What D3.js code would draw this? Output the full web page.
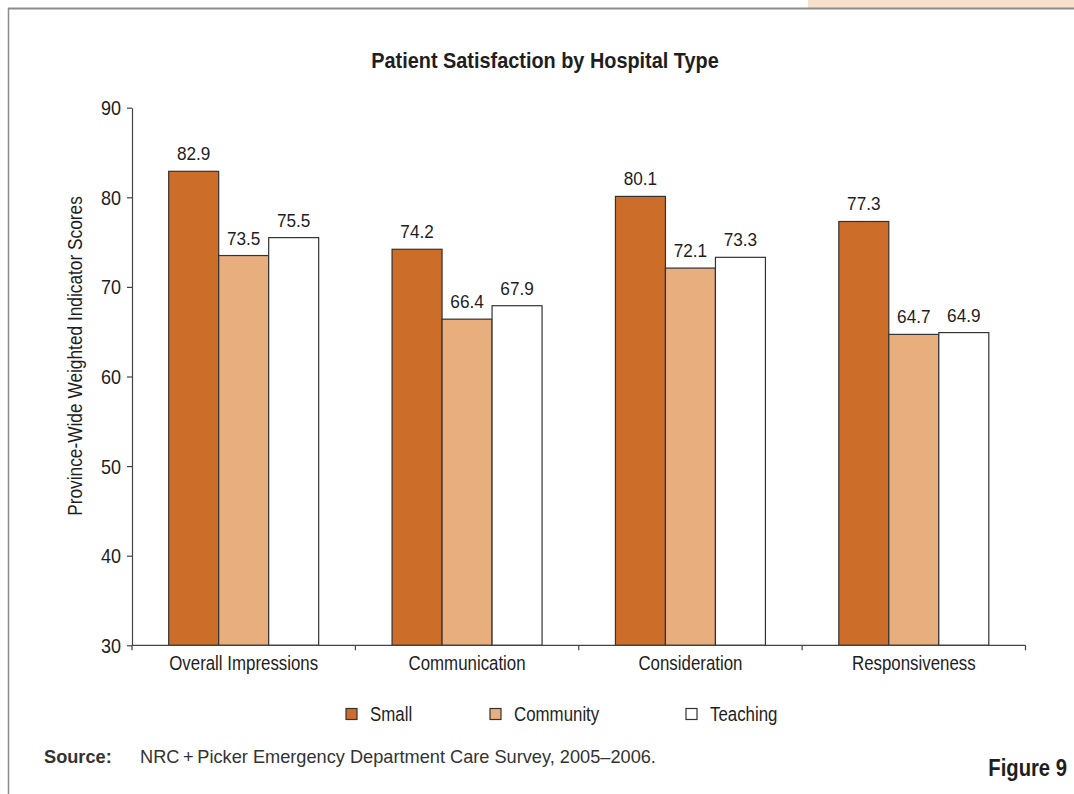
<!DOCTYPE html>
<html>
<head>
<meta charset="utf-8">
<script src="https://cdn.jsdelivr.net/npm/d3@7"></script>
<style>
  html, body { margin: 0; padding: 0; background: #fff; }
  svg { display: block; }
  text { font-family: "Liberation Sans", Arial, Helvetica, sans-serif; }
</style>
</head>
<body>
<svg id="chart" width="1074" height="794"></svg>
<script>
const categories = ["Overall Impressions", "Communication", "Consideration", "Responsiveness"];
const seriesNames = ["Small", "Community", "Teaching"];
const smallValues = [82.9, 74.2, 80.1, 77.3];
const communityValues = [73.5, 66.4, 72.1, 64.7];
const teachingValues = [75.5, 67.9, 73.3, 64.9];
const yTicks = [30, 40, 50, 60, 70, 80, 90];
const colors = ["#cc6d29", "#e8ae7e", "#ffffff"];

const seriesValues = [smallValues, communityValues, teachingValues];

const svg = d3.select("#chart");

// condensed text helper: horizontal squeeze to mimic a condensed face
function ctext(parent, x, y, str, opts = {}) {
  const sx = opts.sx ?? 0.865;
  const g = parent.append("g").attr("transform", `translate(${x},${y}) ${opts.rotate ? `rotate(${opts.rotate})` : ""} scale(${sx},1)`);
  return g.append("text")
    .attr("x", 0).attr("y", 0)
    .attr("text-anchor", opts.anchor || "start")
    .attr("font-size", opts.size || 19.5)
    .attr("font-weight", opts.weight || "normal")
    .attr("fill", opts.fill || "#1e1e1e")
    .text(str);
}

// decorative frame
svg.append("rect").attr("x", 808).attr("y", 0).attr("width", 266).attr("height", 8).attr("fill", "#f7e1cc");
svg.append("line").attr("x1", 8).attr("x2", 1074).attr("y1", 8.5).attr("y2", 8.5).attr("stroke", "#8c8c8c").attr("stroke-width", 2);
svg.append("line").attr("x1", 8.5).attr("x2", 8.5).attr("y1", 8).attr("y2", 794).attr("stroke", "#8c8c8c").attr("stroke-width", 1.5);

const plotLeft = 132, plotRight = 1025.5, plotTop = 107.7, plotBottom = 645.3;

const x0 = d3.scaleBand().domain(categories).range([plotLeft, plotRight]).paddingInner(0).paddingOuter(0);
const x1 = d3.scaleBand().domain(seriesNames).range([0, 150]);
const y = d3.scaleLinear().domain([30, 90]).range([plotBottom, plotTop]);

// title
ctext(svg, 545, 67.5, "Patient Satisfaction by Hospital Type", { anchor: "middle", size: 21.5, weight: "bold", sx: 0.925 });

// bars
const groups = svg.append("g").selectAll("g").data(categories).join("g")
  .attr("transform", d => `translate(${x0(d) + (x0.bandwidth() - 150) / 2},0)`);

groups.each(function (cat, ci) {
  const g = d3.select(this);
  seriesNames.forEach((s, si) => {
    const v = seriesValues[si][ci];
    g.append("rect")
      .attr("x", x1(s)).attr("y", y(v))
      .attr("width", x1.bandwidth()).attr("height", y(30) - y(v))
      .attr("fill", colors[si]).attr("stroke", "#333").attr("stroke-width", 1.2);
    ctext(g, x1(s) + x1.bandwidth() / 2, y(v) - 11, v.toFixed(1), { anchor: "middle", size: 18.7, sx: 0.92 });
  });
});

// y axis
const yAxis = svg.append("g").attr("transform", `translate(${plotLeft},0)`)
  .call(d3.axisLeft(y).tickValues(yTicks).tickSize(5).tickSizeOuter(0).tickFormat(""));
yAxis.select(".domain").attr("stroke", "#444").attr("stroke-width", 1.2);
yAxis.selectAll(".tick line").attr("stroke", "#444").attr("stroke-width", 1.2);
yAxis.selectAll(".tick").each(function (d) {
  ctext(d3.select(this), -11, 7, String(d), { anchor: "end", size: 20, sx: 0.9 });
});

// x axis
const boundaries = categories.map(c => x0(c)).concat([plotRight]);
const xAxis = svg.append("g").attr("transform", `translate(0,${plotBottom})`);
xAxis.append("line").attr("x1", plotLeft).attr("x2", plotRight).attr("stroke", "#444").attr("stroke-width", 1.2);
xAxis.selectAll("line.tk").data(boundaries).join("line").attr("class", "tk")
  .attr("x1", d => d).attr("x2", d => d).attr("y1", 0).attr("y2", 5)
  .attr("stroke", "#444").attr("stroke-width", 1.2);
categories.forEach(c => {
  ctext(xAxis, x0(c) + x0.bandwidth() / 2, 24.7, c, { anchor: "middle", size: 19.5 });
});

// y label
ctext(svg, 82, 356, "Province-Wide Weighted Indicator Scores", { anchor: "middle", size: 20, rotate: -90 });

// legend
const legendX = [346, 490, 686];
seriesNames.forEach((s, i) => {
  svg.append("rect").attr("x", legendX[i]).attr("y", 708.5).attr("width", 11).attr("height", 11)
    .attr("fill", colors[i]).attr("stroke", "#333").attr("stroke-width", 1.2);
  ctext(svg, legendX[i] + 24, 721, s, { size: 19.5 });
});

// source
svg.append("text").attr("x", 44).attr("y", 763)
  .attr("font-size", 18.2).attr("font-weight", "bold").attr("fill", "#333").text("Source:");
svg.append("text").attr("x", 140).attr("y", 763)
  .attr("font-size", 18.2).attr("fill", "#333").text("NRC\u2009+\u2009Picker Emergency Department Care Survey, 2005\u20132006.");

// figure label
ctext(svg, 1067, 776, "Figure 9", { anchor: "end", size: 23, weight: "bold", sx: 0.88 });
</script>
</body>
</html>
